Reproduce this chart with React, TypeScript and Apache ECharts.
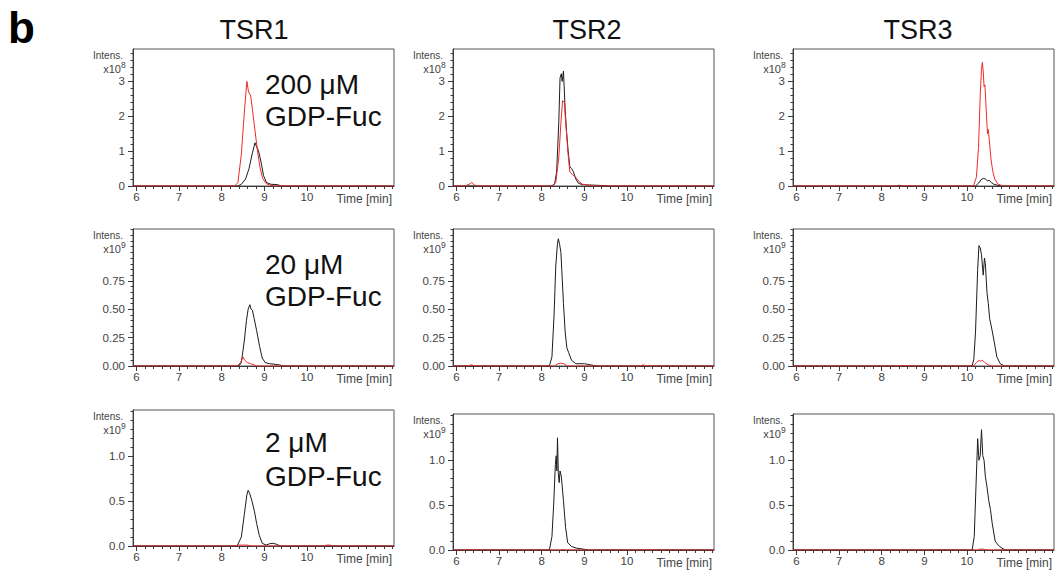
import React, { useEffect, useRef } from "react";
import * as echarts from "echarts";

// ---------- labels ----------
const columnTitles = ["TSR1", "TSR2", "TSR3"];
const concentrationLabels = ["200 μM", "20 μM", "2 μM"];
const substrateLabel = "GDP-Fuc";
const xTickLabels = [6, 7, 8, 9, 10];
const xAxisTitle = "Time [min]";
const yAxisTitle = "Intens.";
const rowExponents = ["8", "9", "9"];
const rowYTicks = [
  [0, 1, 2, 3],
  [0, 0.25, 0.5, 0.75],
  [0, 0.5, 1.0],
];
const rowYDecimals = [0, 2, 1];
const rowYMax = [3.93, 1.206, 1.515];
const rowYMinorStep = [0.2, 0.05, 0.1];
const timeRange = [5.92, 12.04];

// ---------- traces: [time (min), intensity] ----------
// Row 1: 200 µM GDP-Fuc (x10^8)
const tsr1Fuc200Black = [[5.92,0],[8.38,0],[8.46,0.05],[8.56,0.2],[8.64,0.5],[8.72,0.95],[8.78,1.24],[8.82,1.12],[8.86,1.02],[8.92,0.7],[8.98,0.3],[9.05,0.1],[9.15,0.05],[9.3,0.04],[9.4,0],[12.04,0]];
const tsr1Fuc200Red = [[5.92,0],[8.3,0],[8.38,0.1],[8.46,0.9],[8.53,2.1],[8.59,3.0],[8.63,2.7],[8.68,2.58],[8.72,2.2],[8.78,1.6],[8.84,1.0],[8.9,0.52],[8.96,0.22],[9.04,0.07],[9.15,0.02],[9.25,0],[12.04,0]];
const tsr2Fuc200Black = [[5.92,0],[8.22,0],[8.3,0.05],[8.35,0.4],[8.4,1.8],[8.43,3.1],[8.46,3.22],[8.48,3.0],[8.51,3.3],[8.55,2.2],[8.58,1.6],[8.62,1.0],[8.66,0.55],[8.7,0.5],[8.74,0.42],[8.8,0.2],[8.86,0.08],[8.95,0.04],[9.1,0.03],[9.3,0.02],[9.5,0.01],[9.6,0],[12.04,0]];
const tsr2Fuc200Red = [[5.92,0],[6.2,0],[6.3,0.05],[6.36,0.1],[6.42,0.03],[6.5,0],[8.25,0],[8.33,0.1],[8.4,0.8],[8.45,1.8],[8.49,2.45],[8.53,2.4],[8.57,1.7],[8.62,0.9],[8.66,0.4],[8.72,0.33],[8.8,0.25],[8.88,0.12],[8.96,0.05],[9.1,0.02],[9.3,0],[12.04,0]];
const tsr3Fuc200Black = [[5.92,0],[8.35,0],[8.42,0.02],[8.48,0],[10.2,0],[10.27,0.08],[10.33,0.18],[10.38,0.22],[10.43,0.2],[10.48,0.15],[10.52,0.16],[10.57,0.1],[10.63,0.05],[10.72,0.02],[10.8,0],[12.04,0]];
const tsr3Fuc200Red = [[5.92,0],[8.6,0],[8.66,0.02],[8.72,0],[10.15,0],[10.22,0.25],[10.27,1.1],[10.31,2.6],[10.34,3.35],[10.36,3.55],[10.38,3.3],[10.4,2.85],[10.42,2.9],[10.45,2.2],[10.48,1.5],[10.5,1.62],[10.52,1.35],[10.56,0.8],[10.6,0.45],[10.65,0.2],[10.72,0.06],[10.8,0.02],[10.88,0],[12.04,0]];

// Row 2: 20 µM GDP-Fuc (x10^9)
const tsr1Fuc20Black = [[5.92,0],[8.4,0],[8.46,0.03],[8.53,0.22],[8.58,0.4],[8.62,0.5],[8.66,0.54],[8.69,0.5],[8.72,0.49],[8.76,0.42],[8.82,0.31],[8.89,0.17],[8.95,0.07],[9.02,0.03],[9.12,0.02],[9.25,0.015],[9.35,0.01],[9.45,0],[12.04,0]];
const tsr1Fuc20Red = [[5.92,0],[8.36,0],[8.44,0.03],[8.5,0.08],[8.54,0.05],[8.6,0.03],[8.68,0.02],[8.76,0.01],[8.82,0],[12.04,0]];
const tsr2Fuc20Black = [[5.92,0],[8.18,0],[8.24,0.08],[8.29,0.45],[8.33,0.88],[8.37,1.08],[8.39,1.12],[8.42,1.07],[8.45,1.0],[8.47,0.85],[8.51,0.55],[8.55,0.3],[8.59,0.16],[8.63,0.12],[8.7,0.05],[8.8,0.02],[9.0,0.02],[9.15,0.01],[9.3,0],[12.04,0]];
const tsr2Fuc20Red = [[5.92,0],[6.25,0],[6.35,0.01],[6.45,0],[8.3,0],[8.38,0.02],[8.45,0.025],[8.52,0.02],[8.6,0],[10.3,0],[10.38,0.01],[10.45,0],[12.04,0]];
const tsr3Fuc20Black = [[5.92,0],[10.12,0],[10.16,0.06],[10.2,0.3],[10.25,0.85],[10.28,1.06],[10.31,1.04],[10.34,0.98],[10.38,0.8],[10.41,0.95],[10.43,0.9],[10.47,0.64],[10.5,0.55],[10.53,0.42],[10.59,0.31],[10.64,0.21],[10.7,0.08],[10.78,0.02],[10.88,0],[12.04,0]];
const tsr3Fuc20Red = [[5.92,0],[8.4,0],[8.5,0.005],[8.6,0],[10.15,0],[10.22,0.03],[10.28,0.05],[10.31,0.04],[10.34,0.05],[10.38,0.045],[10.42,0.03],[10.5,0.01],[10.58,0],[12.04,0]];

// Row 3: 2 µM GDP-Fuc (x10^9)
const tsr1Fuc2Black = [[5.92,0],[8.36,0],[8.46,0.1],[8.53,0.35],[8.59,0.57],[8.62,0.62],[8.66,0.58],[8.71,0.5],[8.77,0.38],[8.82,0.25],[8.88,0.12],[8.95,0.03],[9.04,0.01],[9.12,0.025],[9.2,0.03],[9.28,0.02],[9.38,0],[12.04,0]];
const tsr1Fuc2Red = [[5.92,0],[8.3,0],[8.4,0.01],[8.6,0.01],[8.7,0],[10.4,0],[10.45,0.01],[10.55,0.01],[10.6,0],[12.04,0]];
const tsr2Fuc2Black = [[5.92,0],[8.18,0],[8.24,0.15],[8.28,0.5],[8.32,0.95],[8.34,1.05],[8.355,0.88],[8.37,1.25],[8.39,0.85],[8.41,0.75],[8.43,0.88],[8.46,0.82],[8.51,0.55],[8.56,0.25],[8.61,0.08],[8.7,0.04],[8.82,0.02],[8.97,0.01],[9.1,0],[12.04,0]];
const tsr2Fuc2Red = [[5.92,0],[6.2,0],[6.28,0.005],[6.35,0],[8.45,0],[8.5,0.005],[8.55,0],[10.35,0],[10.4,0.005],[10.45,0],[12.04,0]];
const tsr3Fuc2Black = [[5.92,0],[10.12,0],[10.17,0.15],[10.21,0.7],[10.25,1.24],[10.28,1.0],[10.31,1.05],[10.34,1.34],[10.37,1.05],[10.4,1.0],[10.43,0.82],[10.47,0.7],[10.51,0.55],[10.55,0.45],[10.59,0.3],[10.66,0.1],[10.74,0.05],[10.82,0.02],[10.9,0],[12.04,0]];
const tsr3Fuc2Red = [[5.92,0],[10.25,0],[10.3,0.01],[10.38,0.01],[10.45,0],[12.04,0]];

const blackTraces = [
  [tsr1Fuc200Black, tsr2Fuc200Black, tsr3Fuc200Black],
  [tsr1Fuc20Black, tsr2Fuc20Black, tsr3Fuc20Black],
  [tsr1Fuc2Black, tsr2Fuc2Black, tsr3Fuc2Black],
];
const redTraces = [
  [tsr1Fuc200Red, tsr2Fuc200Red, tsr3Fuc200Red],
  [tsr1Fuc20Red, tsr2Fuc20Red, tsr3Fuc20Red],
  [tsr1Fuc2Red, tsr2Fuc2Red, tsr3Fuc2Red],
];

// ---------- layout / style ----------
const FONT = "'Liberation Sans', Arial, Helvetica, sans-serif";
const colLeft = [133, 453, 793];
const gridWidth = 261;
const rowTop = [
  [49, 49, 49],
  [229, 229, 229],
  [410, 414, 414],
];
const gridHeight = [137, 137, 136];
const titleX = [254, 587, 918];
const BLACK = "#1c1c1c";
const RED = "#f02a2a";
const AXIS = "#3a3a3a";
const LABEL = "#444";
const TICK_FONT = 11.5;

function stepValues(start: number, end: number, step: number) {
  const out: number[] = [];
  const n = Math.floor((end - start) / step + 1e-6);
  for (let k = 0; k <= n; k++) out.push(Math.round((start + k * step) * 1000) / 1000);
  return out;
}

function buildOption() {
  const grid: any[] = [];
  const xAxis: any[] = [];
  const yAxis: any[] = [];
  const series: any[] = [];
  const graphic: any[] = [];
  const xMinor = stepValues(6, 12, 0.2);

  graphic.push({
    type: "text", x: 8, y: 27,
    style: { text: "b", fontFamily: FONT, fontSize: 44, fontWeight: "bold", fill: "#000", align: "left", verticalAlign: "middle" },
  });
  columnTitles.forEach((t, c) => {
    graphic.push({
      type: "text", x: titleX[c], y: 29.5,
      style: { text: t, fontFamily: FONT, fontSize: 27, fill: "#111", align: "center", verticalAlign: "middle" },
    });
  });

  for (let r = 0; r < 3; r++) {
    for (let c = 0; c < 3; c++) {
      const i = r * 3 + c;
      const left = colLeft[c];
      const top = rowTop[r][c];
      const h = gridHeight[r];
      const bottom = top + h;
      grid.push({ left, top, width: gridWidth, height: h, show: true, borderColor: "#555", borderWidth: 1, backgroundColor: "transparent" });

      xAxis.push({
        gridIndex: i, type: "value", min: timeRange[0], max: timeRange[1], position: "bottom",
        axisLine: { show: true, onZero: false, lineStyle: { color: AXIS, width: 1 } },
        axisTick: { show: true, customValues: xMinor, length: 3, lineStyle: { color: AXIS, width: 1 } },
        axisLabel: { show: true, customValues: xTickLabels, margin: 5, fontSize: TICK_FONT, color: LABEL, fontFamily: FONT, formatter: (v: number) => String(v) },
        splitLine: { show: false },
      });
      xAxis.push({
        gridIndex: i, type: "value", min: timeRange[0], max: timeRange[1], position: "bottom",
        axisLine: { show: false },
        axisTick: { show: true, customValues: xTickLabels, length: 5, lineStyle: { color: AXIS, width: 1 } },
        axisLabel: { show: false },
        splitLine: { show: false },
      });

      const yMinor = stepValues(0, rowYMax[r], rowYMinorStep[r]);
      const dec = rowYDecimals[r];
      yAxis.push({
        gridIndex: i, type: "value", min: 0, max: rowYMax[r], position: "left",
        axisLine: { show: true, onZero: false, lineStyle: { color: AXIS, width: 1 } },
        axisTick: { show: true, customValues: yMinor, length: 2.5, lineStyle: { color: AXIS, width: 1 } },
        axisLabel: { show: true, customValues: rowYTicks[r], margin: 8, fontSize: TICK_FONT, color: LABEL, fontFamily: FONT, formatter: (v: number) => v.toFixed(dec) },
        splitLine: { show: false },
      });
      yAxis.push({
        gridIndex: i, type: "value", min: 0, max: rowYMax[r], position: "left",
        axisLine: { show: false },
        axisTick: { show: true, customValues: rowYTicks[r], length: 5, lineStyle: { color: AXIS, width: 1 } },
        axisLabel: { show: false },
        splitLine: { show: false },
      });

      series.push({
        type: "line", xAxisIndex: 2 * i, yAxisIndex: 2 * i, data: blackTraces[r][c],
        symbol: "none", showSymbol: false, silent: true, clip: true, z: 3,
        lineStyle: { color: BLACK, width: 1 }, itemStyle: { color: BLACK },
      });
      series.push({
        type: "line", xAxisIndex: 2 * i, yAxisIndex: 2 * i, data: redTraces[r][c],
        symbol: "none", showSymbol: false, silent: true, clip: true, z: 4,
        lineStyle: { color: RED, width: 1 }, itemStyle: { color: RED },
      });

      // axis captions
      graphic.push({
        type: "text", x: left - 10, y: top + 6,
        style: { text: yAxisTitle, fontFamily: FONT, fontSize: 10, fill: LABEL, align: "right", verticalAlign: "middle" },
      });
      graphic.push({
        type: "text", x: left - 12, y: top + 20,
        style: { text: "x10", fontFamily: FONT, fontSize: 11, fill: LABEL, align: "right", verticalAlign: "middle" },
      });
      graphic.push({
        type: "text", x: left - 12, y: top + 16,
        style: { text: rowExponents[r], fontFamily: FONT, fontSize: 8.5, fill: LABEL, align: "left", verticalAlign: "middle" },
      });
      graphic.push({
        type: "text", x: left + gridWidth - 2, y: bottom + 12.5,
        style: { text: xAxisTitle, fontFamily: FONT, fontSize: 12, fill: LABEL, align: "right", verticalAlign: "middle" },
      });

      if (c === 0) {
        const lineCenters = [
          [84, 116.5],
          [264, 296.5],
          [442, 476],
        ][r];
        graphic.push({
          type: "text", x: 265, y: lineCenters[0],
          style: { text: concentrationLabels[r], fontFamily: FONT, fontSize: 28, fill: "#111", align: "left", verticalAlign: "middle" },
        });
        graphic.push({
          type: "text", x: 265, y: lineCenters[1],
          style: { text: substrateLabel, fontFamily: FONT, fontSize: 28, fill: "#111", align: "left", verticalAlign: "middle" },
        });
      }
    }
  }

  return { animation: false, backgroundColor: "#fff", grid, xAxis, yAxis, series, graphic };
}

export default function App() {
  const ref = useRef<HTMLDivElement>(null);
  useEffect(() => {
    if (!ref.current) return;
    const chart = echarts.init(ref.current, undefined, { renderer: "svg" });
    chart.setOption(buildOption() as any);
    return () => chart.dispose();
  }, []);
  return <div ref={ref} style={{ position: "absolute", left: 0, top: 0, width: 1055, height: 574 }} />;
}
